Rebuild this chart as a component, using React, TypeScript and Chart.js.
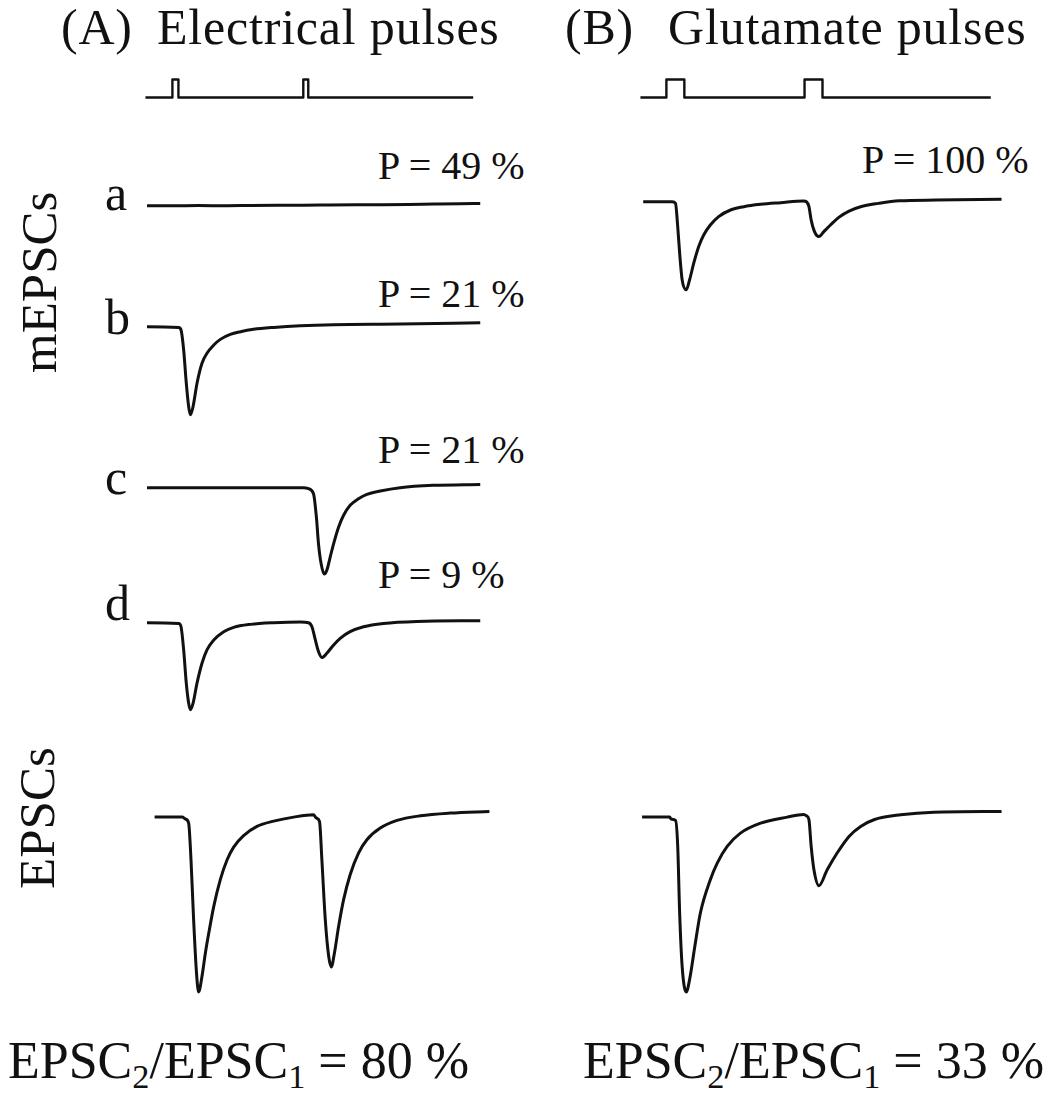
import React, { useEffect, useRef } from "react";
import { Chart, registerables } from "chart.js";

Chart.register(...registerables);

// ---------------- DATA (time in ms from first pulse, current in pA) ----------------
// Stimulus protocols (1 = pulse on)
const stimA_t = [-10.3, 0, 0, 2.3, 2.3, 50, 50, 51.9, 51.9, 114.9];
const stimA_v = [0, 0, 1, 1, 0, 0, 1, 1, 0, 0];
const stimB_t = [-9.4, 0, 0, 6.5, 6.5, 50, 50, 56.5, 56.5, 117.4];
const stimB_v = [0, 0, 1, 1, 0, 0, 1, 1, 0, 0];

// (A) mEPSC sweep a: failure on both pulses
const mA_a_t = [-9.7, 0, 10, 20, 30, 40, 50, 60, 70, 80, 90, 100, 110, 117.6];
const mA_a_v = [0, 0, 0.02, 0, 0.03, 0.05, 0.06, 0.08, 0.1, 0.12, 0.15, 0.2, 0.24, 0.25];

// (A) sweep b: release on first pulse
const mA_b_t = [-9.7, 2.4, 3.3, 4.3, 5.3, 6.2, 6.9, 7.9, 9.4, 11.3, 13.2, 15.8, 18.3, 22.1, 26.0, 31.0, 38.7, 48.9, 61.6, 87.0, 117.6];
const mA_b_v = [0, -0.08, -0.38, -2.67, -6.48, -9.14, -10.1, -9.14, -6.48, -4.19, -3.05, -2.1, -1.45, -0.88, -0.57, -0.3, -0.08, 0.11, 0.23, 0.3, 0.46];

// (A) sweep c: release on second pulse
const mA_c_t = [-9.7, 50.1, 52.0, 53.9, 55.0, 55.8, 56.8, 58.0, 59.0, 60.3, 61.6, 63.5, 65.4, 67.9, 71.1, 74.3, 79.4, 87.0, 99.7, 117.6];
const mA_c_v = [0, 0, -0.11, -0.69, -3.35, -6.4, -8.69, -9.9, -9.45, -7.92, -6.4, -4.5, -3.16, -2.02, -1.26, -0.76, -0.38, 0, 0.27, 0.38];

// (A) sweep d: release on both pulses
const mA_d_t = [-9.7, 2.4, 3.3, 4.3, 5.3, 6.2, 6.9, 7.9, 9.4, 11.3, 13.2, 15.8, 19.6, 23.4, 29.8, 38.7, 48.9, 52.0, 53.3, 54.6, 55.8, 57.1, 59.0, 61.6, 64.1, 67.9, 73.0, 80.6, 93.4, 117.6];
const mA_d_v = [0, -0.08, -0.46, -3.12, -6.93, -9.22, -9.98, -9.22, -6.93, -4.65, -3.12, -1.98, -1.03, -0.53, -0.19, 0, 0.08, 0, -0.46, -1.98, -3.31, -4.0, -3.5, -2.55, -1.79, -1.03, -0.46, -0.08, 0.15, 0.23];

// (A) EPSC
const eA_t = [-6.8, 3.7, 5.0, 6.2, 7.1, 8.1, 9.2, 10.0, 11.3, 12.6, 13.9, 15.8, 18.3, 20.9, 23.4, 27.2, 32.3, 38.7, 46.3, 53.9, 55.0, 56.2, 57.1, 58.4, 59.7, 60.7, 61.9, 63.5, 65.4, 67.9, 71.1, 74.3, 79.4, 85.8, 94.7, 106.1, 121.1];
const eA_v = [0, 0, -0.23, -0.69, -4.88, -11.73, -17.83, -20.0, -18.21, -15.54, -13.26, -10.21, -7.16, -4.88, -3.43, -2.13, -1.07, -0.46, 0, 0.27, -0.11, -0.5, -4.88, -11.73, -15.92, -17.14, -15.54, -12.5, -9.45, -6.59, -4.11, -2.59, -1.26, -0.38, 0.15, 0.46, 0.65];

// (B) mEPSC (P = 100 %)
const mB_t = [-8.4, 2.1, 3.3, 4.1, 4.8, 5.7, 7.2, 8.4, 9.9, 11.7, 13.5, 15.9, 18.9, 23.2, 28.0, 34.1, 41.3, 49.7, 50.7, 51.6, 52.4, 53.6, 55.2, 57.0, 59.4, 62.4, 66.1, 70.3, 76.7, 84.3, 97.6, 121.3];
const mB_v = [0, 0, -0.19, -2.86, -5.9, -8.95, -10.1, -8.95, -7.05, -5.14, -3.81, -2.67, -1.71, -0.95, -0.57, -0.3, -0.11, 0.08, 0, -0.57, -2.1, -3.43, -4.0, -3.43, -2.67, -1.79, -1.07, -0.57, -0.19, 0.11, 0.19, 0.27];

// (B) EPSC
const eB_t = [-8.8, 1.2, 1.7, 3.3, 4.1, 4.8, 5.7, 7.2, 8.4, 10.3, 12.3, 15.9, 18.4, 22.0, 26.8, 34.1, 43.7, 49.7, 50.7, 51.6, 52.4, 53.4, 55.2, 58.2, 61.8, 66.1, 70.3, 75.1, 84.8, 96.8, 121.3];
const eB_v = [0, 0, -0.23, -0.38, -3.35, -10.97, -17.07, -20.0, -18.59, -14.78, -10.97, -7.16, -5.26, -3.35, -1.83, -0.69, 0, 0.3, 0.15, -0.3, -3.35, -6.02, -7.85, -6.02, -4.11, -2.21, -1.07, -0.3, 0.27, 0.57, 0.65];

// Labels
const titleA = ["(A)", "Electrical pulses"];
const titleB = ["(B)", "Glutamate pulses"];
const sweepLetters = ["a", "b", "c", "d"];
const probA = ["P = 49 %", "P = 21 %", "P = 21 %", "P = 9 %"];
const probB = "P = 100 %";
const ratioA = "80 %";
const ratioB = "33 %";

// ---------------- LAYOUT ----------------
const FONT = "'Liberation Serif', 'Times New Roman', serif";
const INK = "#111";
const colA = { x0: 172, kx: 2.62 };
const colB = { x0: 666, kx: 2.76 };
const KY = 8.75; // px per pA
const KS = 18; // px per stimulus unit

type TraceProps = {
  t: number[];
  v: number[];
  col: { x0: number; kx: number };
  base: number;
  ky: number;
  xMin: number;
  xMax: number;
  yMin: number;
  yMax: number;
  lw: number;
  smooth: boolean;
};

function Trace(p: TraceProps) {
  const ref = useRef<HTMLCanvasElement | null>(null);
  const left = p.col.x0 + p.col.kx * p.xMin;
  const width = p.col.kx * (p.xMax - p.xMin);
  const top = p.base - p.ky * p.yMax;
  const height = p.ky * (p.yMax - p.yMin);
  useEffect(() => {
    if (!ref.current) return;
    const chart = new Chart(ref.current, {
      type: "line",
      data: {
        datasets: [
          {
            data: p.t.map((x, i) => ({ x, y: p.v[i] })),
            borderColor: INK,
            borderWidth: p.lw,
            pointRadius: 0,
            fill: false,
            tension: p.smooth ? 0.4 : 0,
            cubicInterpolationMode: p.smooth ? "monotone" : "default",
            borderJoinStyle: "round",
            borderCapStyle: "butt",
            clip: false as any,
          } as any,
        ],
      },
      options: {
        animation: false,
        responsive: false,
        maintainAspectRatio: false,
        events: [],
        layout: { padding: 0 },
        scales: {
          x: { type: "linear", min: p.xMin, max: p.xMax, display: false },
          y: { type: "linear", min: p.yMin, max: p.yMax, display: false },
        },
        plugins: { legend: { display: false }, tooltip: { enabled: false } },
      },
    });
    return () => chart.destroy();
  }, []);
  return (
    <canvas
      ref={ref}
      width={Math.round(width)}
      height={Math.round(height)}
      style={{ position: "absolute", left, top, width: Math.round(width), height: Math.round(height) }}
    />
  );
}

function Label({ x, baseline, size, children, style }: any) {
  return (
    <div
      style={{
        position: "absolute",
        left: x,
        top: baseline - 0.8375 * size,
        fontFamily: FONT,
        fontSize: size,
        lineHeight: `${size}px`,
        whiteSpace: "pre",
        color: INK,
        ...style,
      }}
    >
      {children}
    </div>
  );
}

function VLabel({ x, yStart, size, children }: any) {
  return (
    <div
      style={{
        position: "absolute",
        left: x,
        top: yStart,
        fontFamily: FONT,
        fontSize: size,
        lineHeight: `${size}px`,
        whiteSpace: "pre",
        color: INK,
        transform: "rotate(-90deg)",
        transformOrigin: "0 0",
      }}
    >
      {children}
    </div>
  );
}

function Ratio({ x, value }: any) {
  const sub = { fontSize: "0.66em", verticalAlign: "-0.3em", color: INK };
  return (
    <Label x={x} baseline={1079} size={52}>
      EPSC<span style={sub}>2</span>/EPSC<span style={sub}>1</span> = {value}
    </Label>
  );
}

export default function App() {
  const mr = { xMin: -12, xMax: 124, yMin: -11.5, yMax: 1 };
  const er = { xMin: -12, xMax: 124, yMin: -21.5, yMax: 1.5 };
  const sr = { xMin: -12, xMax: 124, yMin: -0.3, yMax: 1.3 };
  const mrB = { ...mr, xMin: -11 };
  const erB = { ...er, xMin: -11 };
  const srB = { ...sr, xMin: -11 };
  const LW = 3;
  const titleStyle = { letterSpacing: "0.8px" };
  return (
    <div style={{ position: "absolute", left: 0, top: 0, width: 1052, height: 1093, background: "#fff", overflow: "hidden" }}>
      {/* titles */}
      <Label x={61} baseline={44} size={50} style={titleStyle}>{titleA[0]}</Label>
      <Label x={157} baseline={44} size={50} style={titleStyle}>{titleA[1]}</Label>
      <Label x={565} baseline={44} size={50} style={titleStyle}>{titleB[0]}</Label>
      <Label x={668} baseline={44} size={50} style={titleStyle}>{titleB[1]}</Label>

      {/* stimulus */}
      <Trace t={stimA_t} v={stimA_v} col={colA} base={97} ky={KS} {...sr} lw={2.4} smooth={false} />
      <Trace t={stimB_t} v={stimB_v} col={colB} base={97} ky={KS} {...srB} lw={2.4} smooth={false} />

      {/* side labels */}
      <VLabel x={14} yStart={373} size={51}>mEPSCs</VLabel>
      <VLabel x={12} yStart={889} size={51}>EPSCs</VLabel>

      {/* sweep letters */}
      <Label x={105} baseline={210} size={50}>{sweepLetters[0]}</Label>
      <Label x={105} baseline={334} size={50}>{sweepLetters[1]}</Label>
      <Label x={105} baseline={494} size={50}>{sweepLetters[2]}</Label>
      <Label x={105} baseline={620} size={50}>{sweepLetters[3]}</Label>

      {/* probabilities */}
      <Label x={378} baseline={179} size={40}>{probA[0]}</Label>
      <Label x={378} baseline={307} size={40}>{probA[1]}</Label>
      <Label x={378} baseline={463} size={40}>{probA[2]}</Label>
      <Label x={378} baseline={588} size={40}>{probA[3]}</Label>
      <Label x={862} baseline={173} size={40}>{probB}</Label>

      {/* traces column A */}
      <Trace t={mA_a_t} v={mA_a_v} col={colA} base={206} ky={KY} {...mr} lw={LW} smooth={true} />
      <Trace t={mA_b_t} v={mA_b_v} col={colA} base={326.7} ky={KY} {...mr} lw={LW} smooth={true} />
      <Trace t={mA_c_t} v={mA_c_v} col={colA} base={487.3} ky={KY} {...mr} lw={LW} smooth={true} />
      <Trace t={mA_d_t} v={mA_d_v} col={colA} base={622.7} ky={KY} {...mr} lw={LW} smooth={true} />
      <Trace t={eA_t} v={eA_v} col={colA} base={817.3} ky={KY} {...er} lw={LW} smooth={true} />

      {/* traces column B */}
      <Trace t={mB_t} v={mB_v} col={colB} base={201.7} ky={KY} {...mrB} lw={LW} smooth={true} />
      <Trace t={eB_t} v={eB_v} col={colB} base={817.3} ky={KY} {...erB} lw={LW} smooth={true} />

      {/* ratios */}
      <Ratio x={8} value={ratioA} />
      <Ratio x={583} value={ratioB} />
    </div>
  );
}
